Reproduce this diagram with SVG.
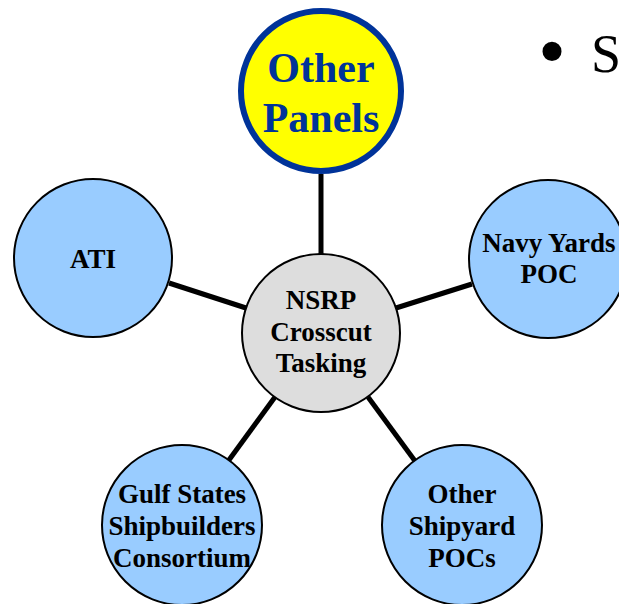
<svg xmlns="http://www.w3.org/2000/svg" width="619" height="604" viewBox="0 0 619 604">
<style>
.blue{fill:#99ccff;stroke:#000;stroke-width:2}
.lbl{font-family:"Liberation Serif","Times New Roman",serif;font-weight:bold;font-size:27px;fill:#000;text-anchor:middle}
.big{font-family:"Liberation Serif","Times New Roman",serif;font-weight:bold;font-size:42px;fill:#003399;text-anchor:middle}
.conn line{stroke:#000;stroke-width:5}
</style>
<rect width="619" height="604" fill="#fff"/>
<g id="connectors" class="conn">
<line x1="321" y1="254" x2="321" y2="174"/>
<line x1="246" y1="308" x2="169" y2="283"/>
<line x1="396" y1="308" x2="472" y2="284"/>
<line x1="275" y1="397" x2="229" y2="460"/>
<line x1="368" y1="397" x2="415" y2="461"/>
</g>
<g id="other-panels">
<circle cx="321" cy="91" r="80" fill="#ffff00" stroke="#003399" stroke-width="6"/>
<text class="big" x="321" y="82">Other</text>
<text class="big" x="321" y="132">Panels</text>
</g>
<g id="ati">
<circle class="blue" cx="93" cy="258" r="79"/>
<text class="lbl" x="93" y="268">ATI</text>
</g>
<g id="navy-yards">
<circle class="blue" cx="548" cy="259" r="79"/>
<text class="lbl" x="549" y="252">Navy Yards</text>
<text class="lbl" x="549" y="283">POC</text>
</g>
<g id="nsrp">
<circle cx="321" cy="333" r="79" fill="#dddddd" stroke="#000" stroke-width="2"/>
<text class="lbl" x="321" y="309">NSRP</text>
<text class="lbl" x="321" y="341">Crosscut</text>
<text class="lbl" x="321" y="372">Tasking</text>
</g>
<g id="gulf-states">
<circle class="blue" cx="182" cy="525" r="80"/>
<text class="lbl" x="182" y="503">Gulf States</text>
<text class="lbl" x="182" y="535">Shipbuilders</text>
<text class="lbl" x="182" y="567">Consortium</text>
</g>
<g id="other-shipyard">
<circle class="blue" cx="462" cy="525" r="80"/>
<text class="lbl" x="462" y="503">Other</text>
<text class="lbl" x="462" y="535">Shipyard</text>
<text class="lbl" x="462" y="567">POCs</text>
</g>
<text font-family="'Liberation Serif','Times New Roman',serif" fill="#000"><tspan x="538" y="78" font-size="80">•</tspan><tspan x="591" y="72" font-size="54">S</tspan></text>
</svg>
